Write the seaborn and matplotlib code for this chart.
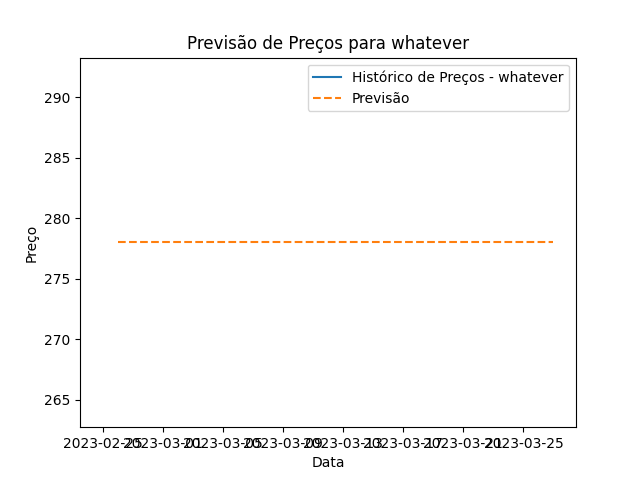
import matplotlib
matplotlib.use("Agg")
import matplotlib.pyplot as plt
import pandas as pd
import seaborn as sns

ticker = "whatever"

# last known price
hist_dates = ["2023-02-25"]
hist_prices = [278.0]

# 30-day forecast
forecast_dates = [
    "2023-02-26", "2023-02-27", "2023-02-28", "2023-03-01", "2023-03-02",
    "2023-03-03", "2023-03-04", "2023-03-05", "2023-03-06", "2023-03-07",
    "2023-03-08", "2023-03-09", "2023-03-10", "2023-03-11", "2023-03-12",
    "2023-03-13", "2023-03-14", "2023-03-15", "2023-03-16", "2023-03-17",
    "2023-03-18", "2023-03-19", "2023-03-20", "2023-03-21", "2023-03-22",
    "2023-03-23", "2023-03-24", "2023-03-25", "2023-03-26", "2023-03-27",
]
forecast_prices = [
    278.0, 278.0, 278.0, 278.0, 278.0, 278.0, 278.0, 278.0, 278.0, 278.0,
    278.0, 278.0, 278.0, 278.0, 278.0, 278.0, 278.0, 278.0, 278.0, 278.0,
    278.0, 278.0, 278.0, 278.0, 278.0, 278.0, 278.0, 278.0, 278.0, 278.0,
]


def main():
    hist = pd.DataFrame({"Data": pd.to_datetime(hist_dates), "Preço": hist_prices})
    prev = pd.DataFrame({"Data": pd.to_datetime(forecast_dates), "Preço": forecast_prices})

    fig, ax = plt.subplots(figsize=(6.4, 4.8), dpi=100)
    sns.lineplot(data=hist, x="Data", y="Preço", ax=ax, color="C0",
                 label=f"Histórico de Preços - {ticker}")
    sns.lineplot(data=prev, x="Data", y="Preço", ax=ax, color="C1",
                 linestyle="--", label="Previsão")

    ax.set_title(f"Previsão de Preços para {ticker}")
    ax.set_xlabel("Data")
    ax.set_ylabel("Preço")
    ax.legend(loc="upper right")

    fig.savefig("out.png")


if __name__ == "__main__":
    main()
